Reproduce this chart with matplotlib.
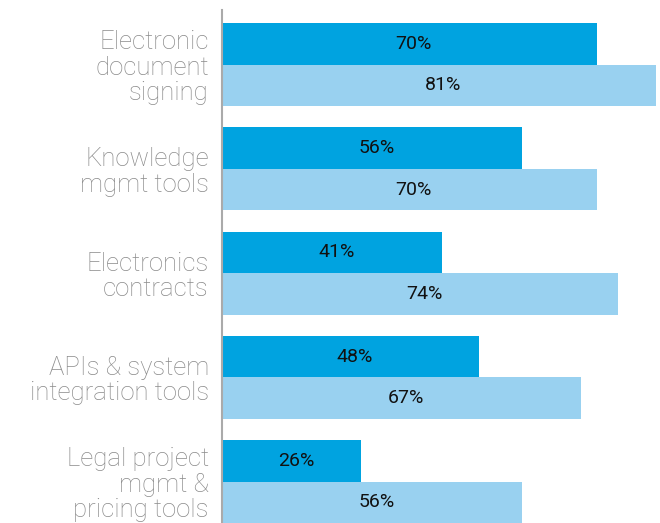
import matplotlib
matplotlib.use("Agg")
import matplotlib.pyplot as plt
import numpy as np

# ===== DATA ===== #
categories = ["Electronic\ndocument\nsigning",
              "Knowledge\nmgmt tools",
              "Electronics\ncontracts",
              "APIs & system\nintegration tools",
              "Legal project\nmgmt &\npricing tools"]
series_a = [70, 56, 41, 48, 26]
series_b = [81, 70, 74, 67, 56]

dark = "#00a3e0"
light = "#99d1f0"

# ===== FIGURE ===== #
fig = plt.figure(figsize=(6.6, 5.23), dpi=100)
ax = fig.add_axes([222 / 660, 0, (656 - 222) / 660, (523 - 10) / 523])

y = np.arange(len(categories))
h = 0.398
ax.barh(y - h / 2, series_a, height=h, color=dark)
ax.barh(y + h / 2, series_b, height=h, color=light)

label_font = ['Roboto', 'Liberation Sans', 'DejaVu Sans']
for i in range(len(categories)):
    ax.text(series_a[i] / 2 + 0.8, y[i] - h / 2, "{}%".format(series_a[i]),
            ha="center", va="center", fontsize=14, color="#111111", family=label_font)
    ax.text(series_b[i] / 2 + 0.8, y[i] + h / 2, "{}%".format(series_b[i]),
            ha="center", va="center", fontsize=14, color="#111111", family=label_font)

ax.set_xlim(0, 81)
ax.set_ylim(4.398, -0.523)
ax.set_yticks(y)
ax.set_yticklabels(categories, fontsize=18.5, color="#8a8a8a", fontweight="light",
                   family=['Roboto', 'Liberation Sans', 'DejaVu Sans'], linespacing=1.07)
ax.tick_params(axis="y", length=0, pad=9.5)
ax.set_xticks([])

for s in ["top", "right", "bottom"]:
    ax.spines[s].set_visible(False)
ax.spines["left"].set_color("#aaaaaa")
ax.spines["left"].set_linewidth(1.5)

fig.savefig("out.png", dpi=100)
